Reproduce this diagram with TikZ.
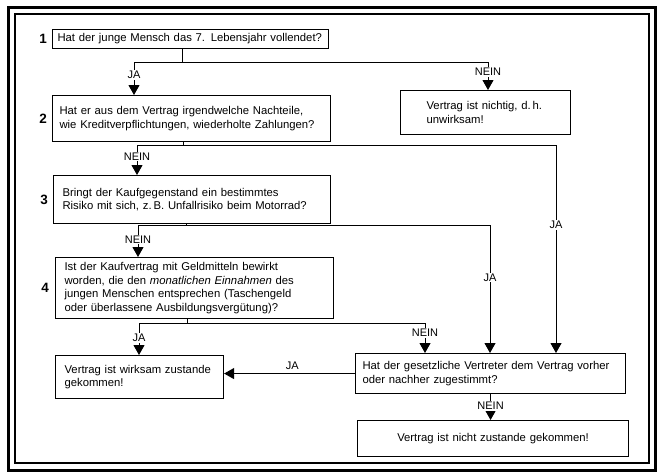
\documentclass[tikz,border=0pt]{standalone}
\usepackage{fontspec}
\setmainfont{Liberation Sans}
\usepackage{tikz}
\usetikzlibrary{positioning, arrows.meta}

\begin{document}
\begin{tikzpicture}[x=1pt, y=-1pt,
    box/.style={draw, line width=1.1pt, anchor=north west, align=left, inner ysep=2pt,
      font=\fontsize{11.3}{13.8}\selectfont},
    num/.style={font=\fontsize{13.5}{15}\selectfont\bfseries, inner sep=1pt},
    lab/.style={fill=white, inner sep=1pt, font=\fontsize{11}{12}\selectfont},
    wire/.style={line width=1pt},
    arr/.style={line width=1pt, -{Triangle[width=11pt, length=10pt]}}]
  \useasboundingbox (0,0) rectangle (660,472);
  % doppelter Rahmen
  \draw[line width=3pt] (8,7) rectangle (655,470);
  \draw[line width=1.8pt] (15,14) rectangle (649,463);

  % Fragen
  \node[box, inner xsep=5pt, text width=266, minimum height=19] (q1) at (52,29)
    {Hat der junge Mensch das 7. Lebensjahr vollendet?};
  \node[box, inner xsep=7pt, text width=264, minimum height=46] (q2) at (52,95)
    {Hat er aus dem Vertrag irgendwelche Nachteile,\\wie Kreditverpflichtungen, wiederholte Zahlungen?};
  \node[box, inner xsep=26pt, text width=118, minimum height=44] (nichtig) at (400,90)
    {Vertrag ist nichtig, d.\,h.\\unwirksam!};
  \node[box, inner xsep=9pt, text width=259, minimum height=48] (q3) at (53,175)
    {Bringt der Kaufgegenstand ein bestimmtes\\Risiko mit sich, z.\,B. Unfallrisiko beim Motorrad?};
  \node[box, inner xsep=9pt, text width=260, minimum height=61] (q4) at (55,257)
    {Ist der Kaufvertrag mit Geldmitteln bewirkt\\worden, die den \emph{monatlichen Einnahmen} des\\jungen Menschen entsprechen (Taschengeld\\oder überlassene Ausbildungsvergütung)?};
  \node[box, inner xsep=9pt, text width=150, minimum height=43] (wirksam) at (55,355)
    {Vertrag ist wirksam zustande\\gekommen!};
  \node[box, inner xsep=7pt, text width=256, minimum height=40] (q5) at (355,353)
    {Hat der gesetzliche Vertreter dem Vertrag vorher\\oder nachher zugestimmt?};
  \node[box, align=center, inner xsep=7pt, text width=257, minimum height=36] (nicht) at (357,420)
    {Vertrag ist nicht zustande gekommen!};

  \node[num, left=4pt of q1.west] (n1) {1};
  \node[num, left=4pt of q2.west] (n2) {2};
  \node[num, left=4pt of q3.west] (n3) {3};
  \node[num, left=5pt of q4.west] (n4) {4};

  % Verzweigungen
  \coordinate (s1) at (182,62);  \coordinate (a1) at (134,62);  \coordinate (b1) at (488,62);
  \coordinate (s2) at (183,145); \coordinate (a2) at (137,145); \coordinate (b2) at (556,145);
  \coordinate (s3) at (186,225); \coordinate (a3) at (138,225); \coordinate (b3) at (490,225);
  \coordinate (s4) at (187,323); \coordinate (a4) at (139,323); \coordinate (b4) at (425,323);

  \draw[wire] (s1 |- q1.south) -- (s1);
  \draw[wire] (a1) -- (b1);
  \draw[arr] (a1) -- node[lab, pos=0.4] {JA} (a1 |- q2.north);
  \draw[arr] (b1) -- node[lab, pos=0.36] {NEIN} (b1 |- nichtig.north);

  \draw[wire] (s2 |- q2.south) -- (s2);
  \draw[wire] (a2) -- (b2);
  \draw[arr] (a2) -- node[lab, pos=0.39] {NEIN} (a2 |- q3.north);
  \draw[arr] (b2) -- node[lab, pos=0.385] {JA} (b2 |- q5.north);

  \draw[wire] (s3 |- q3.south) -- (s3);
  \draw[wire] (a3) -- (b3);
  \draw[arr] (a3) -- node[lab, pos=0.45] {NEIN} (a3 |- q4.north);
  \draw[arr] (b3) -- node[lab, pos=0.41] {JA} (b3 |- q5.north);

  \draw[wire] (s4 |- q4.south) -- (s4);
  \draw[wire] (a4) -- (b4);
  \draw[arr] (a4) -- node[lab, pos=0.47] {JA} (a4 |- wirksam.north);
  \draw[arr] (b4) -- node[lab, pos=0.33] {NEIN} (b4 |- q5.north);

  \draw[arr] (q5.west) -- node[lab, above=2pt, pos=0.48] {JA} (q5.west -| wirksam.east);
  \draw[arr] (q5.south) -- node[lab, pos=0.45] {NEIN} (q5.south |- nicht.north);
\end{tikzpicture}
\end{document}
